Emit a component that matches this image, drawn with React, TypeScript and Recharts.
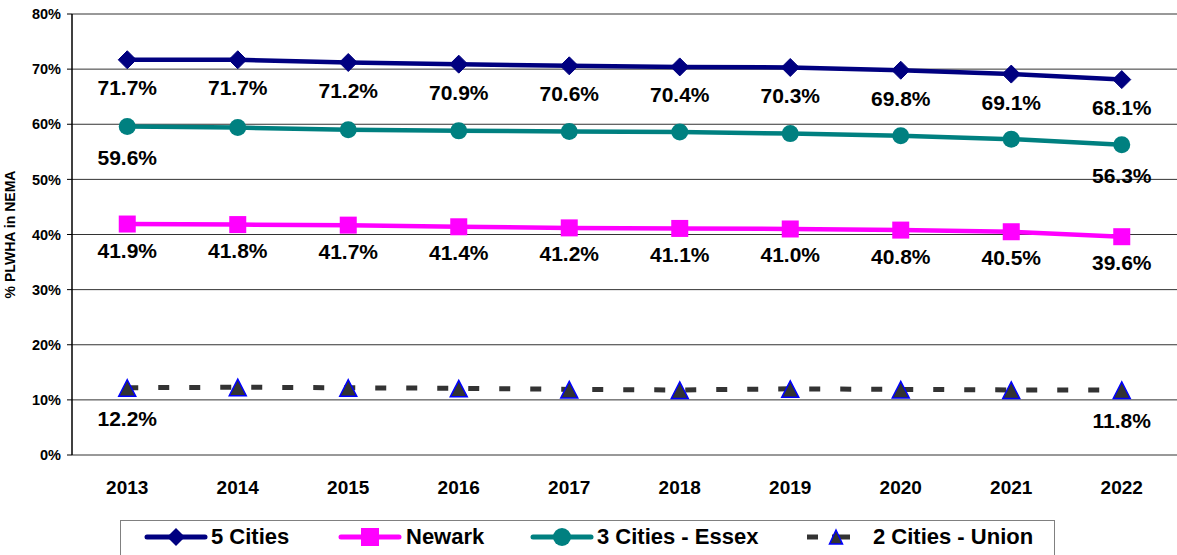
import React from 'react';
import { LineChart, Line, XAxis, YAxis, CartesianGrid, LabelList, ReferenceLine } from 'recharts';

const years = ['2013', '2014', '2015', '2016', '2017', '2018', '2019', '2020', '2021', '2022'];
const fiveCities = [71.7, 71.7, 71.2, 70.9, 70.6, 70.4, 70.3, 69.8, 69.1, 68.1];
const newark = [41.9, 41.8, 41.7, 41.4, 41.2, 41.1, 41.0, 40.8, 40.5, 39.6];
const threeCitiesEssex = [59.6, 59.4, 59.0, 58.8, 58.7, 58.6, 58.3, 57.9, 57.3, 56.3];
const twoCitiesUnion = [12.2, 12.3, 12.2, 12.1, 11.9, 11.8, 12.0, 11.9, 11.8, 11.8];
const yTicks = [0, 10, 20, 30, 40, 50, 60, 70, 80];
const gridTicks = [0, 1, 2, 3, 4, 5, 6, 7, 8, 9, 10];

const data = years.map((year, i) => ({
  year,
  five: fiveCities[i],
  newark: newark[i],
  three: threeCitiesEssex[i],
  two: twoCitiesUnion[i],
}));

const FONT = '"Liberation Sans", Arial, sans-serif';
const NAVY = '#000080';
const MAGENTA = '#FF00FF';
const TEAL = '#008080';
const DARK = '#333333';
const BLUE = '#0000FF';

const Diamond = (props: any) => {
  const { cx, cy } = props;
  if (cx == null || cy == null) return null;
  const r = 9;
  return <polygon points={`${cx},${cy - r} ${cx + r},${cy} ${cx},${cy + r} ${cx - r},${cy}`} fill={NAVY} stroke={NAVY} />;
};
const Square = (props: any) => {
  const { cx, cy } = props;
  if (cx == null || cy == null) return null;
  return <rect x={cx - 8.5} y={cy - 8.5} width={17} height={17} fill={MAGENTA} />;
};
const Circle = (props: any) => {
  const { cx, cy } = props;
  if (cx == null || cy == null) return null;
  return <circle cx={cx} cy={cy} r={8.5} fill={TEAL} />;
};
const Triangle = (props: any) => {
  const { cx, cy } = props;
  if (cx == null || cy == null) return null;
  return <polygon points={`${cx},${cy - 8} ${cx + 8.5},${cy + 8.5} ${cx - 8.5},${cy + 8.5}`} fill={DARK} stroke={BLUE} strokeWidth={1.5} />;
};

const makeLabel = (offset: number, only?: number[]) => (props: any) => {
  const { x, y, value, index } = props;
  if (only && !only.includes(index)) return null;
  return (
    <text x={x} y={y + offset} textAnchor="middle" dominantBaseline="central" fontFamily={FONT} fontWeight="bold" fontSize={21} fill="#000">
      {Number(value).toFixed(1)}%
    </text>
  );
};

const LegendIcon = ({ kind }: { kind: string }) => {
  if (kind === 'five')
    return (
      <svg width={64} height={22}>
        <line x1={3} y1={11} x2={61} y2={11} stroke={NAVY} strokeWidth={5} strokeLinecap="round" />
        <polygon points="32,2 41,11 32,20 23,11" fill={NAVY} />
      </svg>
    );
  if (kind === 'newark')
    return (
      <svg width={64} height={22}>
        <line x1={3} y1={11} x2={61} y2={11} stroke={MAGENTA} strokeWidth={5} strokeLinecap="round" />
        <rect x={23} y={2} width={18} height={18} fill={MAGENTA} />
      </svg>
    );
  if (kind === 'three')
    return (
      <svg width={64} height={22}>
        <line x1={3} y1={11} x2={61} y2={11} stroke={TEAL} strokeWidth={5} strokeLinecap="round" />
        <circle cx={32} cy={11} r={9} fill={TEAL} />
      </svg>
    );
  return (
    <svg width={46} height={22}>
      <line x1={2} y1={11} x2={13} y2={11} stroke={DARK} strokeWidth={5} />
      <line x1={27} y1={11} x2={45} y2={11} stroke={DARK} strokeWidth={5} />
      <polygon points="31,4 37.5,18 24.5,18" fill={DARK} stroke={BLUE} strokeWidth={1.5} />
    </svg>
  );
};

const legendItems = [
  { kind: 'five', label: '5 Cities', iconX: 144, textX: 211 },
  { kind: 'newark', label: 'Newark', iconX: 338, textX: 406 },
  { kind: 'three', label: '3 Cities - Essex', iconX: 530, textX: 597 },
  { kind: 'two', label: '2 Cities - Union', iconX: 805, textX: 873 },
];

export default function App() {
  return (
    <div style={{ position: 'absolute', left: 0, top: 0, width: 1177, height: 555, overflow: 'hidden', background: '#fff' }}>
      <LineChart width={1177} height={555} data={data} margin={{ top: 14, right: 0, bottom: 55, left: 0 }}>
        <CartesianGrid vertical={false} stroke="#333" strokeWidth={1} />
        <XAxis xAxisId="g" type="number" domain={[0, 10]} ticks={gridTicks} tick={false} height={0} tickSize={7} tickLine={{ stroke: '#000' }} axisLine={{ stroke: '#000', strokeWidth: 1.5 }} />
        <XAxis dataKey="year" scale="band" height={45} tickLine={false} axisLine={false} tickMargin={20}
          tick={{ fontFamily: FONT, fontWeight: 'bold', fontSize: 19, fill: '#000' }} />
        <YAxis domain={[0, 80]} ticks={yTicks} width={72} tickSize={5} tickMargin={6} interval={0}
          tickFormatter={(v: number) => `${v}%`}
          tick={{ fontFamily: FONT, fontWeight: 'bold', fontSize: 14.5, fill: '#000' }}
          tickLine={{ stroke: '#000' }} axisLine={{ stroke: '#000', strokeWidth: 1.5 }}
          label={{ value: '% PLWHA in NEMA', angle: -90, position: 'insideLeft', offset: 10, style: { textAnchor: 'middle', fontFamily: FONT, fontWeight: 'bold', fontSize: 14, fill: '#000' } }} />
        <ReferenceLine xAxisId="g" x={10} stroke="#c8c8c8" />
        <Line dataKey="two" stroke={DARK} strokeWidth={5} strokeDasharray="11 20" dot={<Triangle />} activeDot={false} isAnimationActive={false}>
          <LabelList dataKey="two" content={makeLabel(31, [0, 9])} />
        </Line>
        <Line dataKey="newark" stroke={MAGENTA} strokeWidth={4.5} dot={<Square />} activeDot={false} isAnimationActive={false}>
          <LabelList dataKey="newark" content={makeLabel(26)} />
        </Line>
        <Line dataKey="three" stroke={TEAL} strokeWidth={4.5} dot={<Circle />} activeDot={false} isAnimationActive={false}>
          <LabelList dataKey="three" content={makeLabel(31, [0, 9])} />
        </Line>
        <Line dataKey="five" stroke={NAVY} strokeWidth={4.5} dot={<Diamond />} activeDot={false} isAnimationActive={false}>
          <LabelList dataKey="five" content={makeLabel(28)} />
        </Line>
      </LineChart>
      <div style={{ position: 'absolute', left: 120, top: 520, width: 935, height: 40, border: '1px solid #808080', boxSizing: 'border-box' }} />
      {legendItems.map((it) => (
        <React.Fragment key={it.kind}>
          <div style={{ position: 'absolute', left: it.iconX, top: 526, height: 22, lineHeight: 0 }}>
            <LegendIcon kind={it.kind} />
          </div>
          <div style={{ position: 'absolute', left: it.textX, top: 524, fontFamily: FONT, fontWeight: 'bold', fontSize: 22, lineHeight: '26px', color: '#000', whiteSpace: 'nowrap' }}>
            {it.label}
          </div>
        </React.Fragment>
      ))}
    </div>
  );
}
